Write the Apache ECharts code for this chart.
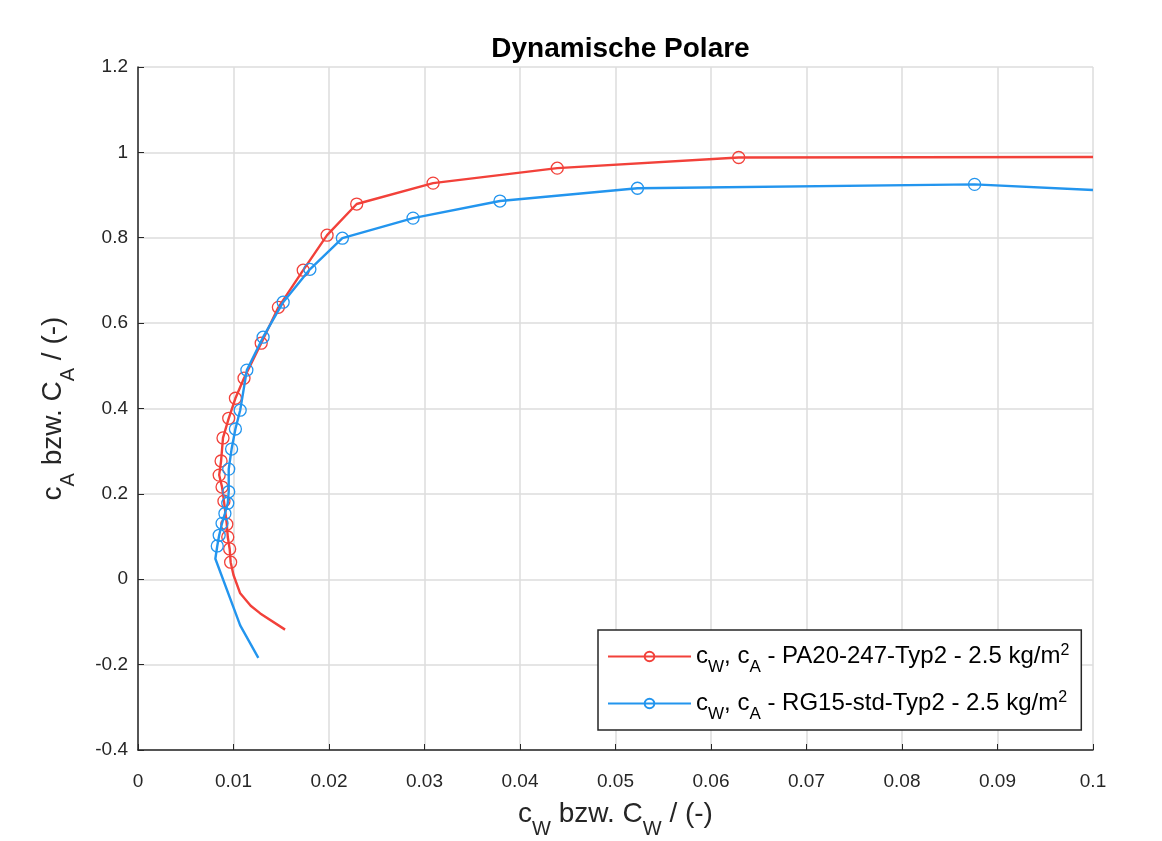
<!DOCTYPE html>
<html><head><meta charset="utf-8">
<script src="https://cdn.jsdelivr.net/npm/echarts@6/dist/echarts.min.js"></script>
<style>html,body{margin:0;padding:0;background:#fff}#c{width:1162px;height:841px}</style>
</head><body><div id="c"></div>
<script>
// Red series: PA20-247-Typ2 line points (cW, cA); redMark = 1 where a circle marker is drawn
const redCw = [0.0154, 0.0128, 0.0118, 0.0107, 0.0100, 0.0097, 0.0096, 0.0094, 0.0093, 0.0090, 0.0088, 0.0085, 0.0087, 0.0089, 0.0095, 0.0102, 0.0111, 0.0129, 0.0147, 0.0173, 0.0198, 0.0229, 0.0309, 0.0439, 0.0629, 0.1000];
const redCa = [-0.118, -0.080, -0.062, -0.033, 0.010, 0.040, 0.071, 0.099, 0.129, 0.183, 0.216, 0.244, 0.277, 0.331, 0.377, 0.424, 0.471, 0.553, 0.637, 0.724, 0.806, 0.879, 0.928, 0.963, 0.988, 0.989];
const redMark = [0, 0, 0, 0, 0, 1, 1, 1, 1, 1, 1, 1, 1, 1, 1, 1, 1, 1, 1, 1, 1, 1, 1, 1, 1, 0];
// Blue series: RG15-std-Typ2
const blueCw = [0.0126, 0.0107, 0.0081, 0.0083, 0.0085, 0.0088, 0.0091, 0.0094, 0.0095, 0.0095, 0.0098, 0.0102, 0.0107, 0.0114, 0.0131, 0.0152, 0.0180, 0.0214, 0.0288, 0.0379, 0.0523, 0.0876, 0.1000];
const blueCa = [-0.184, -0.108, 0.048, 0.078, 0.103, 0.131, 0.154, 0.178, 0.205, 0.258, 0.305, 0.352, 0.396, 0.490, 0.567, 0.649, 0.726, 0.799, 0.846, 0.886, 0.916, 0.925, 0.912];
const blueMark = [0, 0, 0, 1, 1, 1, 1, 1, 1, 1, 1, 1, 1, 1, 1, 1, 1, 1, 1, 1, 1, 1, 0];
const xTicks = [0, 0.01, 0.02, 0.03, 0.04, 0.05, 0.06, 0.07, 0.08, 0.09, 0.1];
const yTicks = [-0.4, -0.2, 0, 0.2, 0.4, 0.6, 0.8, 1, 1.2];
const seriesNames = ['PA20-247-Typ2', 'RG15-std-Typ2'];
const colors = ['#f2413a', '#2395ee'];

function build(cw, ca, mk) {
  return cw.map((x, i) => mk[i] ? [x, ca[i]] : {value: [x, ca[i]], symbol: 'none'});
}
const FONT = '"Liberation Sans", Arial, Helvetica, sans-serif';
const TXT = '#262626';
const chart = echarts.init(document.getElementById('c'), null, {renderer: 'canvas'});
const labelStyle = {color: TXT, fontSize: 19, fontFamily: FONT, formatter: v => String(parseFloat(v.toFixed(3)))};
const axisCommon = {
  axisLine: {show: true, onZero: false, lineStyle: {color: TXT, width: 1.5}},
  axisTick: {show: true, inside: true, length: 6, lineStyle: {color: TXT, width: 1}},
  splitLine: {show: true, lineStyle: {color: '#dcdcdc', width: 1.5}},
  nameMoveOverlap: false
};
const nameRich = {
  a: {fontFamily: FONT, fontSize: 28, color: TXT, lineHeight: 40},
  s: {fontFamily: FONT, fontSize: 20, color: TXT, lineHeight: 40, padding: [30, 0, 0, 0]}
};
chart.setOption({
  animation: false,
  backgroundColor: '#fff',
  title: {text: 'Dynamische Polare', left: 615.5, textAlign: 'center', top: 28,
    textStyle: {fontFamily: FONT, fontSize: 28, fontWeight: 'bold', color: '#000', lineHeight: 32}},
  grid: {left: 138, right: 69, top: 67, bottom: 91, containLabel: false, outerBoundsMode: 'none'},
  xAxis: Object.assign({}, axisCommon, {
    type: 'value', min: xTicks[0], max: xTicks[xTicks.length - 1], interval: 0.01,
    axisLabel: Object.assign({}, labelStyle, {margin: 22}),
    name: '{a|c}{s|W}{a| bzw. C}{s|W}{a| / (-)}', nameLocation: 'middle', nameGap: 44,
    nameTextStyle: {rich: nameRich}
  }),
  yAxis: Object.assign({}, axisCommon, {
    type: 'value', min: yTicks[0], max: yTicks[yTicks.length - 1], interval: 0.2,
    axisLabel: Object.assign({}, labelStyle, {margin: 10}),
    name: '{a|c}{s|A}{a| bzw. C}{s|A}{a| / (-)}', nameLocation: 'middle', nameGap: 65, nameRotate: 90,
    nameTextStyle: {rich: nameRich}
  }),
  legend: {
    orient: 'vertical', left: 598, top: 630, padding: [7, 12, 7, 9],
    backgroundColor: '#fff', borderColor: TXT, borderWidth: 1.5,
    itemWidth: 83, itemHeight: 12, itemGap: 8,
    data: seriesNames,
    formatter: n => '{a|c}{s|W}{a|, c}{s|A}{a| - ' + n + ' - 2.5 kg/m}{p|2}',
    textStyle: {rich: {
      a: {fontFamily: FONT, fontSize: 24, color: '#000', lineHeight: 30},
      s: {fontFamily: FONT, fontSize: 17, color: '#000', lineHeight: 30, padding: [22, 0, 0, 0]},
      p: {fontFamily: FONT, fontSize: 16, color: '#000', lineHeight: 30, padding: [0, 0, 11, 0]}
    }}
  },
  series: [
    {name: seriesNames[0], type: 'line', data: build(redCw, redCa, redMark), symbol: 'circle', symbolSize: 12,
     showAllSymbol: true, lineStyle: {width: 2.4, color: colors[0]},
     itemStyle: {color: 'rgba(255,255,255,0)', borderColor: colors[0], borderWidth: 1.3}, z: 3},
    {name: seriesNames[1], type: 'line', data: build(blueCw, blueCa, blueMark), symbol: 'circle', symbolSize: 12,
     showAllSymbol: true, lineStyle: {width: 2.4, color: colors[1]},
     itemStyle: {color: 'rgba(255,255,255,0)', borderColor: colors[1], borderWidth: 1.3}, z: 4}
  ]
});
</script></body></html>
